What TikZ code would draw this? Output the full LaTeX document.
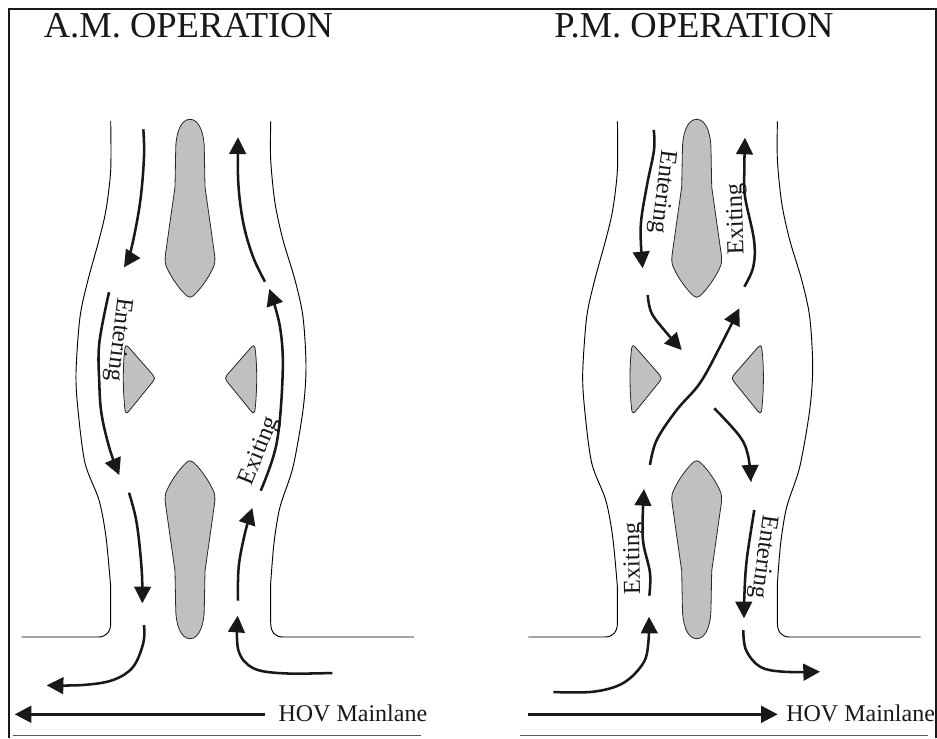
\documentclass[tikz,border=0pt]{standalone}
\usepackage{fontspec}
\setmainfont{Liberation Serif}
\usetikzlibrary{arrows.meta}
\tikzset{
  roadedge/.style={draw=black,line width=0.7pt},
  island/.style={draw=black!85,fill=islandgray,line width=0.6pt,line join=round},
  flow/.style={draw=flowblack,line width=1.9pt,-{Triangle[length=12.5pt,width=12.5pt]}},
  lane/.style={draw=flowblack,line width=2.1pt,-{Triangle[length=12.5pt,width=12.5pt]}},
  flowtext/.style={font=\fontsize{18.3}{20}\selectfont,text=flowblack,inner sep=0pt},
  titletext/.style={font=\fontsize{27.4}{30}\selectfont,text=flowblack,inner sep=0pt,anchor=base west},
  lanetext/.style={font=\fontsize{18}{20}\selectfont,text=flowblack,inner sep=0pt,anchor=base west},
  framing/.style={draw=black!90,line width=1.3pt},
  baseline rule/.style={draw=black!65,line width=0.9pt}
}
\definecolor{islandgray}{HTML}{C0C1BF}
\definecolor{flowblack}{HTML}{1A1718}
\newcommand{\longisland}{%
  \path[island] (190,119.3) .. controls (180,119.3) and (175.7,135) .. (175.7,150)
    -- (175,187) -- (165.5,254) .. controls (164.7,260) and (165,264) .. (167,268)
    .. controls (172,279) and (181,291) .. (187,296) .. controls (189,297.6) and (191,297.6) .. (193,296)
    .. controls (199,291) and (208,279) .. (213,268) .. controls (215,264) and (215.3,260) .. (214.5,254)
    -- (205,187) -- (204.3,150) .. controls (204.3,135) and (200,119.3) .. (190,119.3) -- cycle;}
\newcommand{\smallisland}{%
  \path[island] (123.3,378) .. controls (123.3,365) and (124,355) .. (125,348)
    .. controls (125.5,345) and (127,345) .. (128.5,347) -- (153,375)
    .. controls (155,377.5) and (155,379) .. (153,381.5) -- (129,411)
    .. controls (127,413.5) and (125.5,413.5) .. (125,410)
    .. controls (124,401) and (123.3,390) .. (123.3,378) -- cycle;}
\newcommand{\roadpanel}{%
  \draw[roadedge] plot[smooth,tension=.5] coordinates {(110.7,121.3) (110.7,170) (106,210) (99,240) (88,280) (80,317) (76,373) (78,410) (85,463) (99,500) (106,537) (110.7,587)}
    -- (110.7,623) .. controls (110.7,632) and (106,637) .. (98,637) -- (21.7,637);
  \draw[roadedge] plot[smooth,tension=.5] coordinates {(270.7,121.3) (270.7,160) (275,203) (283,240) (295,280) (303,317) (306,367) (303,410) (293,467) (280,507) (274,543) (270.7,583)}
    -- (270.7,623) .. controls (270.7,632) and (275,637) .. (283,637) -- (414,637);
  \longisland
  \begin{scope}[shift={(0,758)},yscale=-1]\longisland\end{scope}
  \smallisland
  \begin{scope}[shift={(380,0)},xscale=-1]\smallisland\end{scope}}
\begin{document}
\begin{tikzpicture}[x=0.75pt,y=-0.75pt]
\useasboundingbox (0,0) rectangle (937,738);
\fill[white] (0,0) rectangle (937,738);
% frame
\draw[framing] (9.3,738) -- (9.3,9.3) -- (936,9.3) -- (936,738);
\draw[baseline rule] (13.3,735.7) -- (420.7,735.7);
\draw[baseline rule] (520,735.7) -- (927.7,735.7);
% titles
\node[titletext] (amtitle) at (43.5,38) {A.M. OPERATION};
\node[titletext] (pmtitle) at (554,38) {P.M. OPERATION};
% roads and islands
\roadpanel
\begin{scope}[xshift=506.7*0.75pt]\roadpanel\end{scope}
% A.M. flows
\draw[flow] plot[smooth,tension=.6] coordinates {(143.3,129.3) (144,157) (140,203) (131,250) (124,267.3)};
\draw[flow] plot[smooth,tension=.6] coordinates {(109,292.3) (99.3,343) (99.3,383) (101.7,415) (110,450) (119.3,475)};
\draw[flow] plot[smooth,tension=.6] coordinates {(265,281.7) (253,256.7) (243.3,223) (238.3,183) (238,137.3)};
\draw[flow] plot[smooth,tension=.6] coordinates {(260.7,490.7) (276.7,443) (282.7,373) (280,327) (269.3,289)};
\draw[flow] plot[smooth,tension=.6] coordinates {(129,492.7) (136.7,523) (141.7,570) (142.3,603.3)};
\draw[flow] plot[smooth,tension=.6] coordinates {(144,625) (143.3,643) (133,667) (113,680) (83,685) (46.7,685.3)};
\draw[flow] plot[smooth,tension=.6] coordinates {(238,600.7) (238.7,566.7) (245,533) (252.3,508)};
\draw[flow] plot[smooth,tension=.6] coordinates {(332.3,673) (283,673.3) (253,668) (238.3,650) (237.7,615.7)};
\node[flowtext,rotate=-97] (amenter) at (118,339.5) {Entering};
\node[flowtext,rotate=68] (amexit) at (260,451) {Exiting};
% P.M. flows
\draw[flow] plot[smooth,tension=.6] coordinates {(653.7,130) (654,150) (646.7,186.7) (640.7,226.7) (642.7,268.3)};
\draw[flow] plot[smooth,tension=.6] coordinates {(647.7,295) (651.7,313.3) (666.7,333) (681.7,350)};
\draw[flow] plot[smooth,tension=.6] coordinates {(744.3,286.7) (753.3,266.7) (754,240) (745,196.7) (744.3,170) (745,137.7)};
\draw[flow] plot[smooth,tension=.6] coordinates {(650,465) (656.7,440) (676.7,410) (700,383) (720,346.7) (739.3,308.3)};
\draw[flow] plot[smooth,tension=.6] coordinates {(714.3,408.3) (740,436.7) (748.3,456.7) (750.7,481.7)};
\draw[flow] plot[smooth,tension=.6] coordinates {(754.3,510) (746.7,560) (744.3,596.7) (744,618.3)};
\draw[flow] plot[smooth,tension=.6] coordinates {(743.3,630) (746,650) (760,666.7) (783.3,671.7) (820,671.7)};
\draw[flow] plot[smooth,tension=.6] coordinates {(649.3,595.7) (650,573) (643.3,543) (642.7,516.7) (644,489)};
\draw[flow] plot[smooth,tension=.6] coordinates {(553.3,692) (593.3,691.7) (623.3,683) (643.3,663) (648.3,643) (649,616.7)};
\node[flowtext,rotate=-97] (pmenter) at (662,191.7) {Entering};
\node[flowtext,rotate=92] (pmexit) at (737,219) {Exiting};
\node[flowtext,rotate=-98] (pmenterb) at (763,556.7) {Entering};
\node[flowtext,rotate=91] (pmexitb) at (634,558.3) {Exiting};
% mainlanes
\node[lanetext] (amhov) at (278.3,721.7) {HOV Mainlane};
\node[lanetext] (pmhov) at (786,721.7) {HOV Mainlane};
\coordinate (amstart) at (265,714.3);
\coordinate (amend) at (14.7,714.3);
\coordinate (pmstart) at (528.3,714.3);
\coordinate (pmend) at (777.7,714.3);
\draw[lane] (amstart) -- (amend);
\draw[lane] (pmstart) -- (pmend);
\end{tikzpicture}
\end{document}
